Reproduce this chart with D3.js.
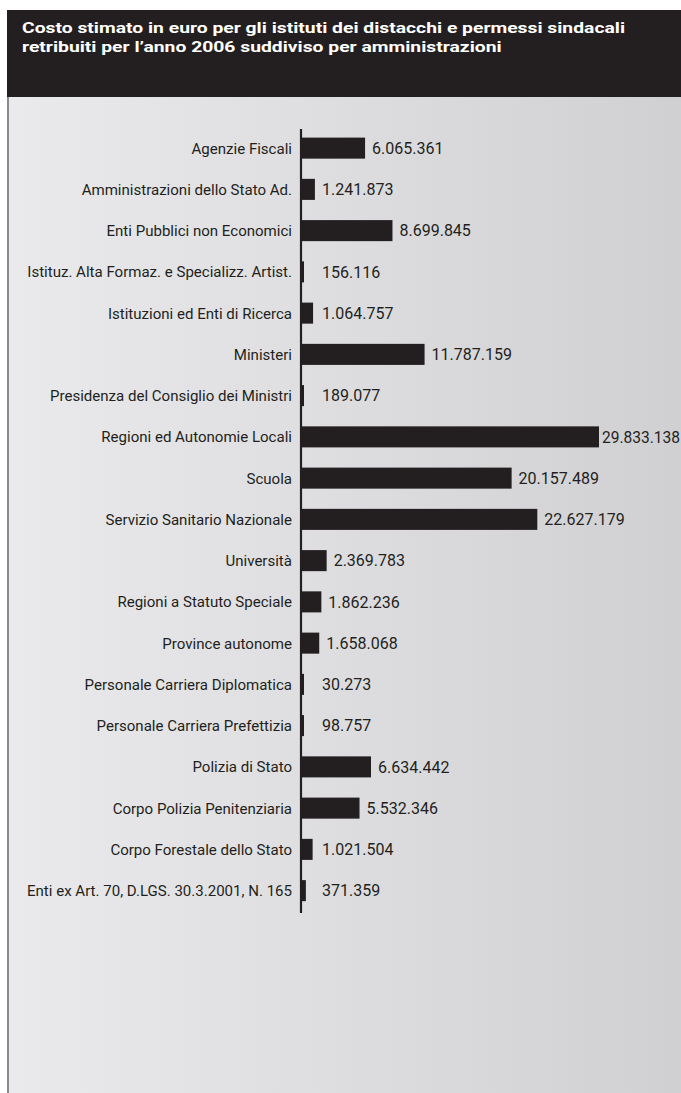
<!DOCTYPE html>
<html><head><meta charset="utf-8">
<script src="https://cdn.jsdelivr.net/npm/d3@7"></script>
<style>html,body{margin:0;padding:0;background:#fff;}svg{display:block;}</style>
</head><body>
<script>
const titleLines = [
  "Costo stimato in euro per gli istituti dei distacchi e permessi sindacali",
  "retribuiti per l\u2019anno 2006 suddiviso per amministrazioni"
];
const categories = [
  "Agenzie Fiscali",
  "Amministrazioni dello Stato Ad.",
  "Enti Pubblici non Economici",
  "Istituz. Alta Formaz. e Specializz. Artist.",
  "Istituzioni ed Enti di Ricerca",
  "Ministeri",
  "Presidenza del Consiglio dei Ministri",
  "Regioni ed Autonomie Locali",
  "Scuola",
  "Servizio Sanitario Nazionale",
  "Università",
  "Regioni a Statuto Speciale",
  "Province autonome",
  "Personale Carriera Diplomatica",
  "Personale Carriera Prefettizia",
  "Polizia di Stato",
  "Corpo Polizia Penitenziaria",
  "Corpo Forestale dello Stato",
  "Enti ex Art. 70, D.LGS. 30.3.2001, N. 165"
];
const values = [
  6065361, 1241873, 8699845, 156116, 1064757, 11787159, 189077, 29833138,
  20157489, 22627179, 2369783, 1862236, 1658068, 30273, 98757, 6634442,
  5532346, 1021504, 371359
];

const W = 681, H = 1093;
const svg = d3.select("body").append("svg").attr("width", W).attr("height", H);
const defs = svg.append("defs");
const grad = defs.append("linearGradient").attr("id", "bg").attr("x1", "0").attr("x2", "1").attr("y1", "0").attr("y2", "0");
grad.append("stop").attr("offset", "0").attr("stop-color", "#eaeaec");
grad.append("stop").attr("offset", "1").attr("stop-color", "#d0d0d3");

// panel
svg.append("rect").attr("x", 7).attr("y", 96).attr("width", W - 7).attr("height", H - 96).attr("fill", "url(#bg)");
svg.append("rect").attr("x", 7).attr("y", 96).attr("width", 2).attr("height", H - 96).attr("fill", "#8a8a8c");
// header
svg.append("rect").attr("x", 7).attr("y", 10).attr("width", W - 7).attr("height", 87).attr("fill", "#231f20");
const tt = svg.append("g").attr("font-family", "Roboto, sans-serif").attr("font-weight", "bold")
  .attr("font-size", 15.5).attr("fill", "#fff");
const t1 = tt.append("text").attr("x", 22).attr("y", 33).text(titleLines[0]);
const w1 = t1.node().getComputedTextLength();
const tScale = 603 / w1;
t1.attr("textLength", w1 * tScale).attr("lengthAdjust", "spacingAndGlyphs");
const t2 = tt.append("text").attr("x", 22).attr("y", 51.5).text(titleLines[1]);
t2.attr("textLength", t2.node().getComputedTextLength() * tScale).attr("lengthAdjust", "spacingAndGlyphs");

// scales
const x0 = 302;
const x = d3.scaleLinear().domain([0, 28.56e6]).range([0, 297]).clamp(true);
const y = d3.scaleBand().domain(categories).range([127.5, 127.5 + 41.25 * categories.length]).paddingInner(0.49).paddingOuter(0.245);

const g = svg.append("g").attr("font-family", "Roboto, sans-serif").attr("font-size", 15.5).attr("fill", "#231f20");

// bars
g.selectAll("rect.bar").data(values).join("rect").attr("class", "bar")
  .attr("x", x0)
  .attr("y", (d, i) => y(categories[i]))
  .attr("width", d => Math.max(x(d), 2))
  .attr("height", y.bandwidth())
  .attr("fill", "#231f20");

// axis line
svg.append("line").attr("x1", 301).attr("x2", 301).attr("y1", 129).attr("y2", 913)
  .attr("stroke", "#231f20").attr("stroke-width", 2.2);

// category labels
const labs = g.selectAll("text.cat").data(categories).join("text").attr("class", "cat")
  .attr("x", 292).attr("y", d => y(d) + y.bandwidth() / 2).attr("dy", "0.36em")
  .attr("text-anchor", "end").text(d => d);
const refNode = labs.filter(d => d === categories[18]).node();
const lScale = 265 / refNode.getComputedTextLength();
labs.each(function () {
  const w = this.getComputedTextLength();
  d3.select(this).attr("textLength", w * lScale).attr("lengthAdjust", "spacingAndGlyphs");
});

// value labels
const fmt = v => d3.format(",")(v).replace(/,/g, ".");
const vl = g.selectAll("text.val").data(values).join("text").attr("class", "val")
  .attr("x", d => Math.max(x0 + x(d) + (x(d) >= 297 ? 3 : 7), 322))
  .attr("y", (d, i) => y(categories[i]) + y.bandwidth() / 2).attr("dy", "0.36em")
  .attr("font-size", 16)
  .text(d => fmt(d));
// keep the label of the clamped bar inside the picture
vl.each(function () {
  const sx = +this.getAttribute("x");
  const w = this.getComputedTextLength();
  if (sx + w > W - 1) {
    d3.select(this).attr("textLength", W - 1 - sx).attr("lengthAdjust", "spacingAndGlyphs");
  }
});
</script>
</body></html>
